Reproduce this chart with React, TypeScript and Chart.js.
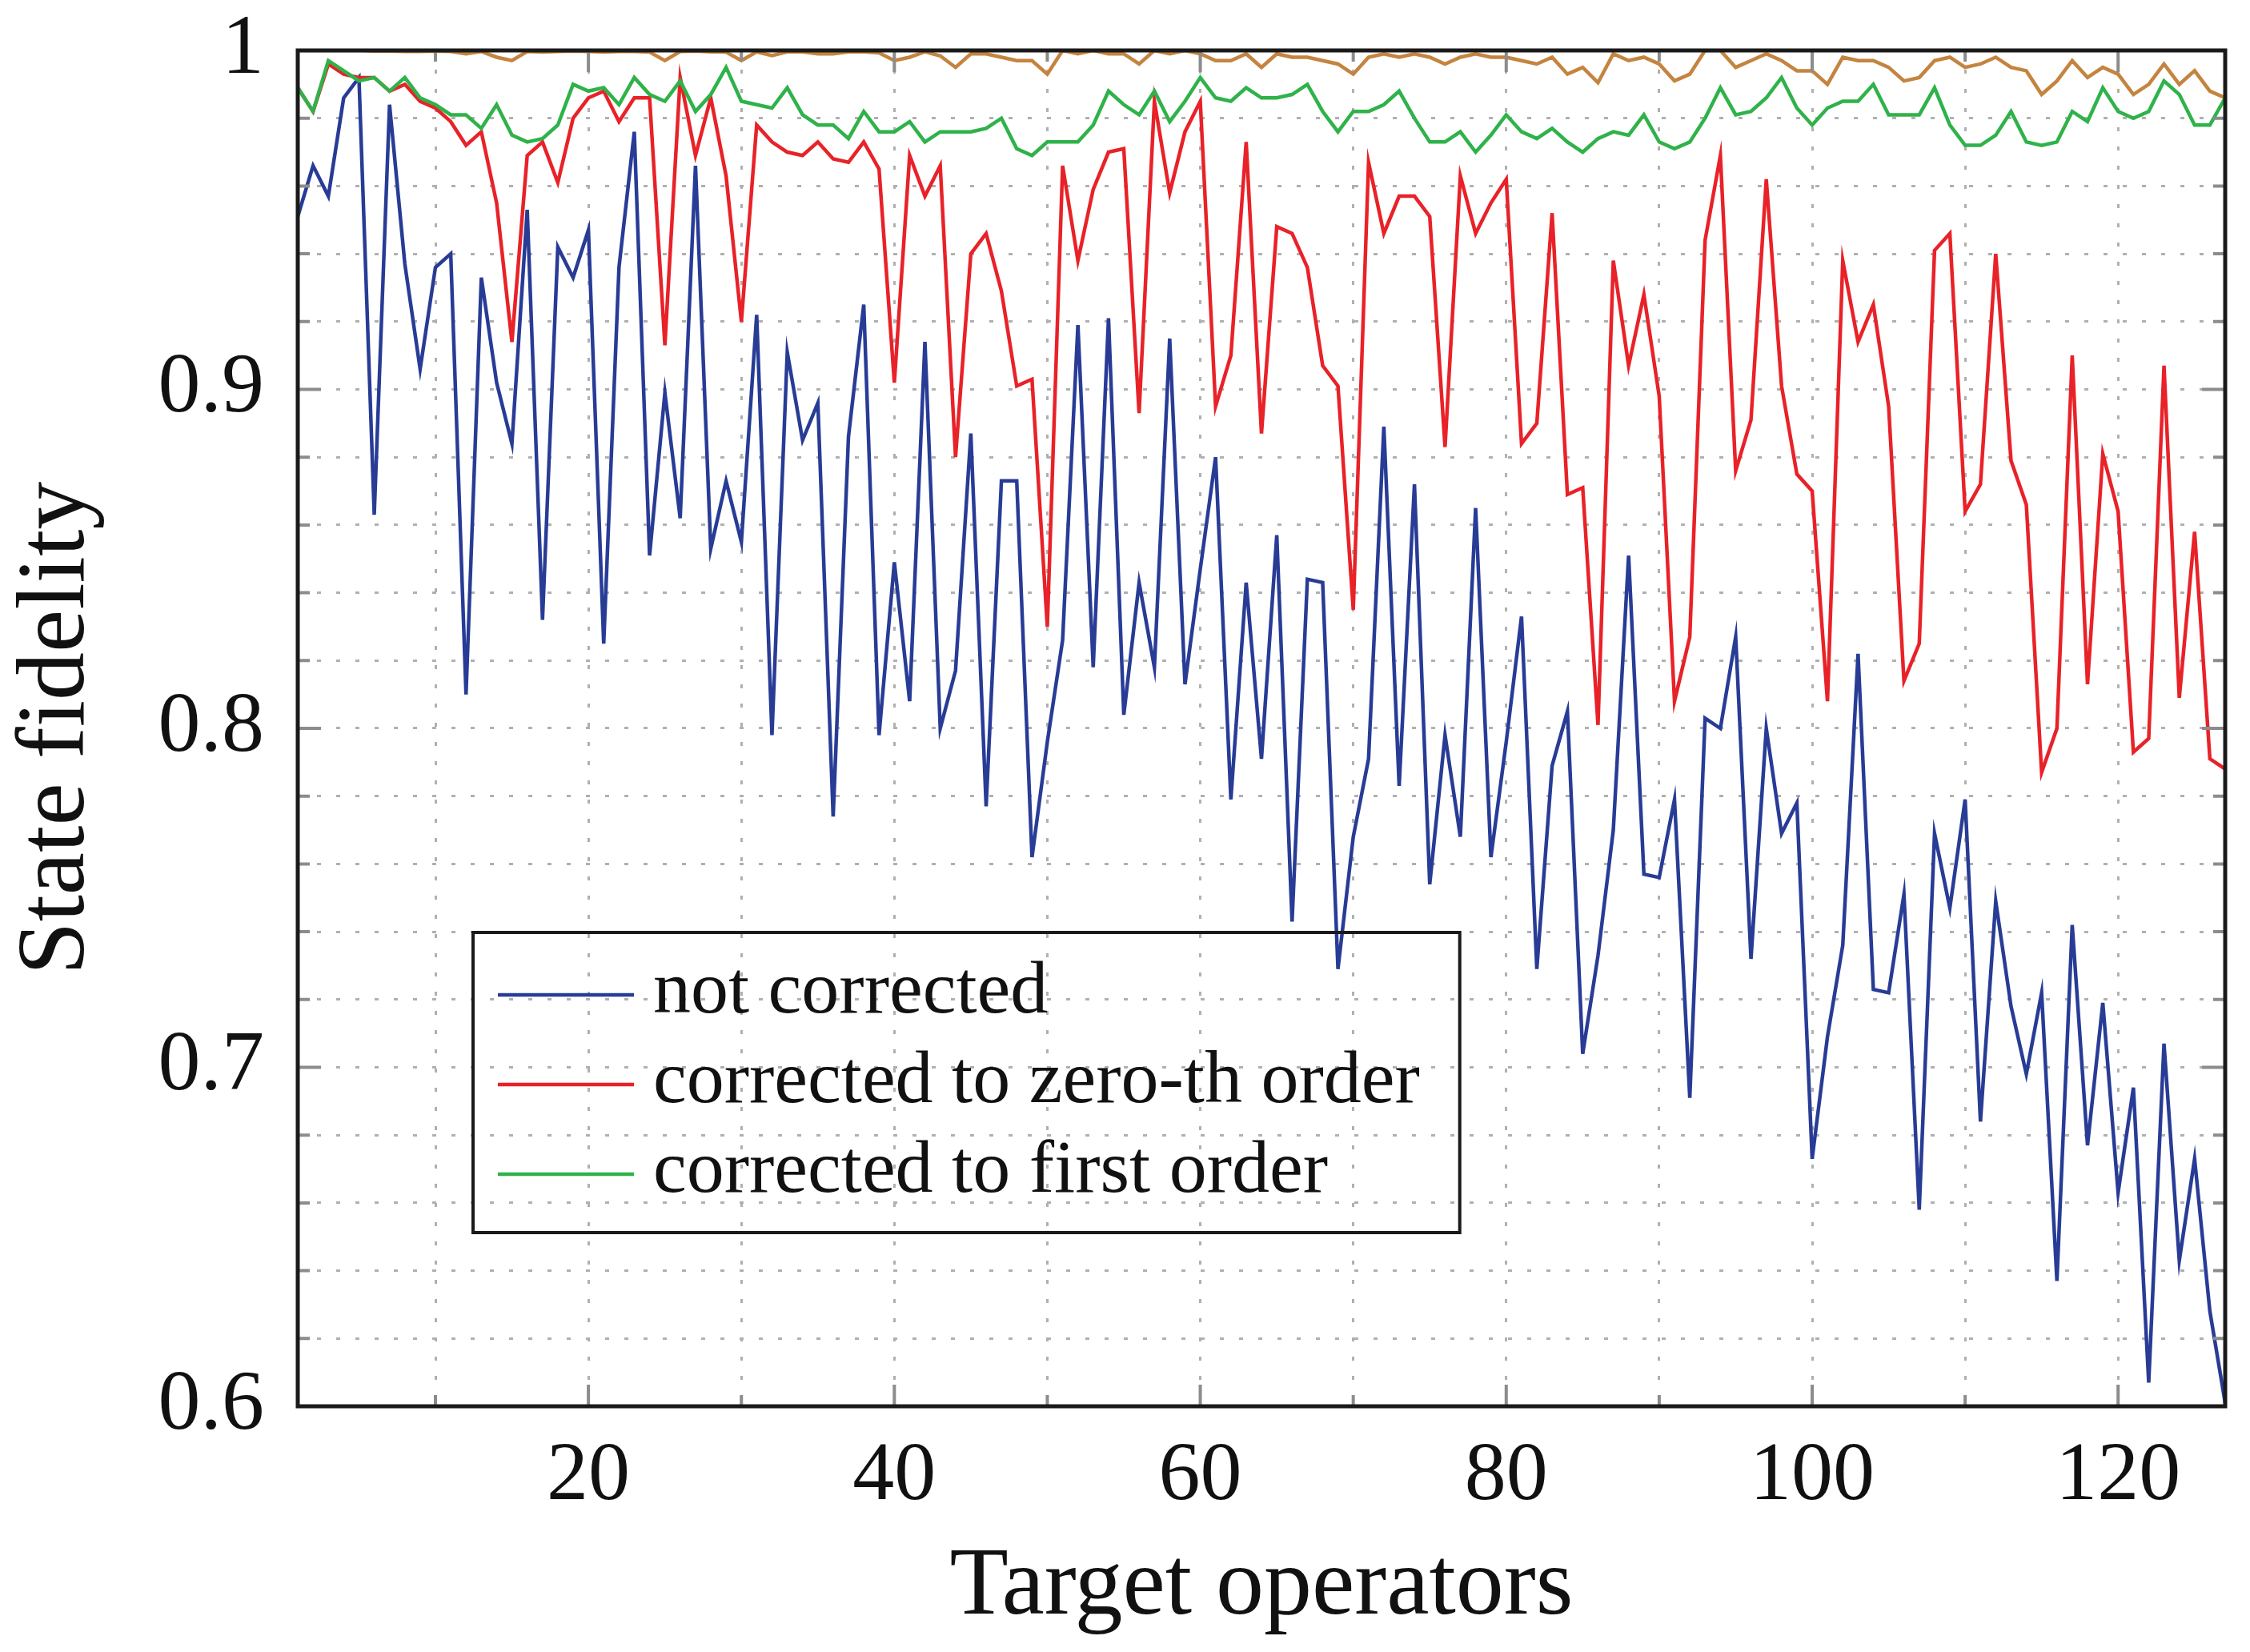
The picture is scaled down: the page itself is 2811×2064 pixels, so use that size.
import React, { useEffect, useRef } from 'react';
import { Chart, registerables, Plugin } from 'chart.js';

Chart.register(...registerables);

// x: index of the target operator, 1..127
const operators = Array.from({ length: 127 }, (_, i) => i + 1);

const notCorrected = [
  0.951, 0.966, 0.957, 0.986, 0.992, 0.863, 0.984, 0.937, 0.906, 0.936,
  0.940, 0.810, 0.933, 0.902, 0.884, 0.953, 0.832, 0.942, 0.933, 0.947,
  0.825, 0.936, 0.976, 0.851, 0.899, 0.862, 0.966, 0.853, 0.873, 0.855,
  0.922, 0.798, 0.911, 0.885, 0.896, 0.774, 0.886, 0.925, 0.798, 0.849,
  0.808, 0.914, 0.800, 0.817, 0.887, 0.777, 0.873, 0.873, 0.762, 0.796,
  0.826, 0.919, 0.818, 0.921, 0.804, 0.843, 0.818, 0.915, 0.813, 0.847,
  0.880, 0.779, 0.843, 0.791, 0.857, 0.743, 0.844, 0.843, 0.729, 0.768,
  0.791, 0.889, 0.783, 0.872, 0.754, 0.798, 0.768, 0.865, 0.762, 0.796,
  0.833, 0.729, 0.789, 0.805, 0.704, 0.733, 0.770, 0.851, 0.757, 0.756,
  0.779, 0.691, 0.803, 0.800, 0.827, 0.732, 0.800, 0.769, 0.778, 0.673,
  0.709, 0.736, 0.822, 0.723, 0.722, 0.751, 0.658, 0.769, 0.747, 0.779,
  0.684, 0.749, 0.718, 0.698, 0.722, 0.637, 0.742, 0.677, 0.719, 0.663,
  0.694, 0.607, 0.707, 0.643, 0.673, 0.628, 0.601,
];

const zerothOrder = [
  0.989, 0.982, 0.996, 0.993, 0.992, 0.992, 0.988, 0.990, 0.985, 0.983,
  0.979, 0.972, 0.976, 0.955, 0.914, 0.969, 0.973, 0.961, 0.980, 0.986,
  0.988, 0.979, 0.986, 0.986, 0.913, 0.992, 0.969, 0.986, 0.963, 0.920,
  0.978, 0.973, 0.970, 0.969, 0.973, 0.968, 0.967, 0.973, 0.965, 0.902,
  0.969, 0.957, 0.966, 0.880, 0.940, 0.946, 0.929, 0.901, 0.903, 0.830,
  0.966, 0.938, 0.959, 0.970, 0.971, 0.893, 0.985, 0.958, 0.976, 0.985,
  0.895, 0.910, 0.973, 0.887, 0.948, 0.946, 0.936, 0.907, 0.901, 0.835,
  0.967, 0.946, 0.957, 0.957, 0.951, 0.883, 0.963, 0.946, 0.955, 0.962,
  0.884, 0.890, 0.952, 0.869, 0.871, 0.801, 0.938, 0.907, 0.928, 0.898,
  0.808, 0.827, 0.944, 0.969, 0.876, 0.891, 0.962, 0.901, 0.875, 0.870,
  0.808, 0.938, 0.914, 0.925, 0.895, 0.814, 0.825, 0.941, 0.946, 0.864,
  0.872, 0.940, 0.879, 0.866, 0.787, 0.800, 0.910, 0.813, 0.881, 0.864,
  0.793, 0.797, 0.907, 0.809, 0.858, 0.791, 0.788,
];

const firstOrder = [
  0.989, 0.982, 0.997, 0.994, 0.991, 0.992, 0.988, 0.992, 0.986, 0.984,
  0.981, 0.981, 0.977, 0.984, 0.975, 0.973, 0.974, 0.978, 0.990, 0.988,
  0.989, 0.984, 0.992, 0.987, 0.985, 0.991, 0.982, 0.987, 0.995, 0.985,
  0.984, 0.983, 0.989, 0.981, 0.978, 0.978, 0.974, 0.982, 0.976, 0.976,
  0.979, 0.973, 0.976, 0.976, 0.976, 0.977, 0.980, 0.971, 0.969, 0.973,
  0.973, 0.973, 0.978, 0.988, 0.984, 0.981, 0.988, 0.979, 0.985, 0.992,
  0.986, 0.985, 0.989, 0.986, 0.986, 0.987, 0.990, 0.982, 0.976, 0.982,
  0.982, 0.984, 0.988, 0.980, 0.973, 0.973, 0.976, 0.970, 0.975, 0.981,
  0.976, 0.974, 0.977, 0.973, 0.970, 0.974, 0.976, 0.975, 0.981, 0.973,
  0.971, 0.973, 0.980, 0.989, 0.981, 0.982, 0.986, 0.992, 0.983, 0.978,
  0.983, 0.985, 0.985, 0.990, 0.981, 0.981, 0.981, 0.989, 0.978, 0.972,
  0.972, 0.975, 0.982, 0.973, 0.972, 0.973, 0.982, 0.979, 0.989, 0.982,
  0.980, 0.982, 0.991, 0.987, 0.978, 0.978, 0.986,
];

// top curve, not listed in the legend
const upperCurve = [
  1.000, 1.000, 1.000, 1.000, 1.000, 0.9998, 0.9998, 0.9997, 0.9997, 0.9998,
  0.9997, 0.999, 0.9997, 0.998, 0.997, 0.9997, 0.9995, 0.9997, 0.9998, 0.9997,
  0.9995, 0.9997, 0.9997, 0.9995, 0.997, 0.9997, 0.9998, 0.9996, 0.9995, 0.997,
  0.9996, 0.9985, 0.9996, 0.9996, 0.999, 0.999, 0.9996, 0.9996, 0.9993, 0.997,
  0.998, 0.9996, 0.9984, 0.995, 0.999, 0.999, 0.998, 0.997, 0.997, 0.993,
  1.000, 0.999, 1.000, 0.999, 0.999, 0.996, 1.000, 0.999, 1.000, 0.999,
  0.997, 0.997, 0.999, 0.995, 0.999, 0.998, 0.998, 0.997, 0.996, 0.993,
  0.998, 0.999, 0.998, 0.999, 0.998, 0.996, 0.998, 0.999, 0.998, 0.998,
  0.997, 0.996, 0.998, 0.993, 0.995, 0.9905, 0.999, 0.997, 0.998, 0.996,
  0.991, 0.993, 1.000, 1.000, 0.995, 0.997, 0.999, 0.997, 0.994, 0.994,
  0.990, 0.998, 0.997, 0.997, 0.995, 0.991, 0.992, 0.997, 0.998, 0.995,
  0.996, 0.998, 0.995, 0.994, 0.987, 0.991, 0.997, 0.992, 0.995, 0.993,
  0.987, 0.990, 0.996, 0.990, 0.994, 0.988, 0.986,
];

const xGridValues = [10, 20, 30, 40, 50, 60, 70, 80, 90, 100, 110, 120];
const yGridValues = [
  0.6, 0.62, 0.64, 0.66, 0.68, 0.7, 0.72, 0.74, 0.76, 0.78, 0.8,
  0.82, 0.84, 0.86, 0.88, 0.9, 0.92, 0.94, 0.96, 0.98, 1,
];

const FONT = '"Liberation Serif", "Times New Roman", serif';
const isMajorY = (v: number) => Math.abs(v * 10 - Math.round(v * 10)) < 1e-6;

const framePlugin: Plugin = {
  id: 'frameAndLegend',
  afterDraw(chart) {
    const { ctx, chartArea: a, scales } = chart;
    const xs = scales.x;
    const ys = scales.y;
    ctx.save();

    // inward ticks on all four sides
    ctx.strokeStyle = '#8c8c8c';
    ctx.lineWidth = 4;
    ctx.beginPath();
    for (const v of xGridValues) {
      const px = xs.getPixelForValue(v);
      const len = v % 20 === 0 ? 27 : 14;
      ctx.moveTo(px, a.bottom);
      ctx.lineTo(px, a.bottom - len);
      ctx.moveTo(px, a.top);
      ctx.lineTo(px, a.top + len);
    }
    for (const v of yGridValues) {
      const py = ys.getPixelForValue(v);
      const len = isMajorY(v) ? 29 : 15;
      ctx.moveTo(a.left, py);
      ctx.lineTo(a.left + len, py);
      ctx.moveTo(a.right, py);
      ctx.lineTo(a.right - len, py);
    }
    ctx.stroke();

    ctx.strokeStyle = '#1a1a1a';
    ctx.lineWidth = 5;
    ctx.strokeRect(a.left, a.top, a.right - a.left, a.bottom - a.top);

    // legend box inside the plot, lower left
    const items = chart.data.datasets.filter((d) => d.label);
    ctx.font = `94px ${FONT}`;
    const textW = Math.max(...items.map((d) => ctx.measureText(String(d.label)).width));
    const left = a.left + 219;
    const top = a.top + 1102;
    const sampleX = left + 31;
    const sampleW = 170;
    const textX = sampleX + sampleW + 24;
    const right = textX + textW + 50;
    const bottom = top + 375;
    ctx.lineWidth = 4;
    ctx.strokeStyle = '#1a1a1a';
    ctx.strokeRect(left, top, right - left, bottom - top);
    items.forEach((d, i) => {
      const cy = top + 78 + i * 112;
      ctx.strokeStyle = String(d.borderColor);
      ctx.lineWidth = 4.5;
      ctx.beginPath();
      ctx.moveTo(sampleX, cy);
      ctx.lineTo(sampleX + sampleW, cy);
      ctx.stroke();
      ctx.fillStyle = '#111';
      ctx.textAlign = 'left';
      ctx.textBaseline = 'alphabetic';
      ctx.fillText(String(d.label), textX, cy + 22);
    });

    ctx.restore();
  },
};

const line = (label: string, values: number[], color: string, order: number) => ({
  label,
  data: values.map((y, i) => ({ x: operators[i], y })),
  borderColor: color,
  backgroundColor: color,
  borderWidth: 4.5,
  pointRadius: 0,
  tension: 0,
  order,
});

export default function App() {
  const canvasRef = useRef<HTMLCanvasElement | null>(null);

  useEffect(() => {
    document.body.style.margin = '0';
    if (!canvasRef.current) return;
    const ctx = canvasRef.current.getContext('2d');
    if (!ctx) return;

    const chart = new Chart(ctx, {
      type: 'line',
      data: {
        datasets: [
          line('not corrected', notCorrected, '#283c96', 4),
          line('corrected to zero-th order', zerothOrder, '#e82228', 3),
          line('corrected to first order', firstOrder, '#2fb24a', 2),
          line('', upperCurve, '#c4843f', 1),
        ],
      },
      options: {
        animation: false,
        responsive: true,
        maintainAspectRatio: false,
        devicePixelRatio: 1,
        layout: { padding: { left: 0, top: 63, right: 31, bottom: 0 } },
        plugins: {
          legend: { display: false },
          tooltip: { enabled: false },
        },
        scales: {
          x: {
            type: 'linear',
            min: 1,
            max: 127,
            afterBuildTicks: (s) => {
              s.ticks = xGridValues.map((value) => ({ value }));
            },
            afterFit: (s) => {
              s.height = 307;
              s.paddingLeft = 0;
              s.paddingRight = 0;
            },
            grid: { color: '#b0b0b0', lineWidth: 3, drawTicks: false },
            border: { display: false, dash: [5, 19] },
            ticks: {
              autoSkip: false,
              maxRotation: 0,
              padding: 26,
              color: '#111',
              font: { family: FONT, size: 104 },
              callback: (v) => (Number(v) % 20 === 0 ? String(v) : ''),
            },
            title: {
              display: true,
              text: 'Target operators',
              color: '#111',
              font: { family: FONT, size: 120 },
              padding: { top: 0, bottom: 8 },
            },
          },
          y: {
            min: 0.6,
            max: 1,
            afterBuildTicks: (s) => {
              s.ticks = yGridValues.map((value) => ({ value }));
            },
            afterFit: (s) => {
              s.width = 372;
              s.paddingTop = 0;
              s.paddingBottom = 0;
            },
            grid: { color: '#b0b0b0', lineWidth: 3, drawTicks: false },
            border: { display: false, dash: [5, 19] },
            ticks: {
              autoSkip: false,
              padding: 42,
              color: '#111',
              font: { family: FONT, size: 106 },
              callback: (v) => {
                const n = Number(v);
                if (!isMajorY(n)) return '';
                return n === 1 ? '1' : n.toFixed(1);
              },
            },
            title: {
              display: true,
              text: 'State fidelity',
              color: '#111',
              font: { family: FONT, size: 120 },
              padding: { top: 0, bottom: 0 },
            },
          },
        },
      },
      plugins: [framePlugin],
    });

    return () => chart.destroy();
  }, []);

  return (
    <div style={{ position: 'absolute', left: 0, top: 0, width: 2811, height: 2064, background: '#fff' }}>
      <canvas ref={canvasRef} />
    </div>
  );
}
